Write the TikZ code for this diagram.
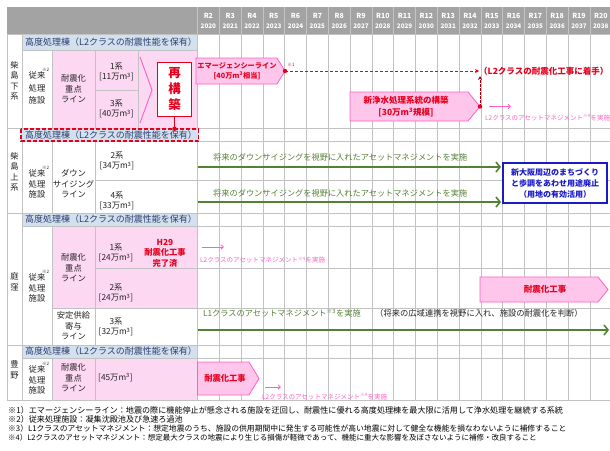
\documentclass[tikz,border=0pt]{standalone}
\usepackage{fontspec}
\setmainfont{Noto Sans CJK JP}
\usetikzlibrary{arrows.meta}
\newcommand\myfs[2]{\fontsize{#1}{#2}\selectfont}
\definecolor{hdr}{HTML}{A3A3A3}
\definecolor{hdrsep}{HTML}{C4C4C4}
\definecolor{band}{HTML}{D3E0EE}
\definecolor{bandtxt}{HTML}{2E3F6E}
\definecolor{pk}{HTML}{FDD8F3}
\definecolor{pkfill}{HTML}{FFC6EB}
\definecolor{pkline}{HTML}{FF5FC4}
\definecolor{rd}{HTML}{E6001E}
\definecolor{drd}{HTML}{9A0010}
\definecolor{gn}{HTML}{548235}
\definecolor{bl}{HTML}{1A1AC8}
\definecolor{gridc}{HTML}{C2C2C2}
\definecolor{txtc}{HTML}{222222}
\tikzset{
 cell/.style={draw=gridc, line width=0.5pt},
 txt/.style={inner sep=0pt, align=center, text=txtc, font=\myfs{8.3}{10.5}},
 hdrtxt/.style={text=white, inner sep=0pt, font=\myfs{7}{7}\bfseries},
 btxt/.style={text=bandtxt, anchor=west, inner sep=0pt, font=\myfs{9}{10}},
 redtxt/.style={text=rd, inner sep=0pt, align=center, font=\myfs{8.3}{10}\bfseries},
 pinktxt/.style={text=pkline, anchor=west, inner sep=0pt, font=\myfs{6.5}{7}},
 grntxt/.style={text=gn, anchor=west, inner sep=0pt, font=\myfs{8.2}{9}},
 garrow/.style={gn, line width=2pt, -{Straight Barb[length=4pt,width=10pt,line width=1.6pt]}},
 parrow/.style={pkline, line width=0.8pt, -{Straight Barb[length=2.5pt,width=4.5pt]}},
 penta/.style={fill=pkfill, draw=pkline, line width=0.8pt},
 sup2/.style={inner sep=0pt, text=txtc, font=\myfs{4.5}{5}},
 foot/.style={anchor=west, inner sep=0pt, text=black, font=\myfs{8}{8}},
}
\begin{document}
\begin{tikzpicture}[x=1pt,y=-1pt]
\useasboundingbox (0,0) rectangle (610,450);
\fill[white] (0,0) rectangle (610,450);
% header
\fill[hdr] (7,7) rectangle (610,34);
\foreach \i in {0,...,18} {
  \pgfmathsetmacro\cx{208.4+21.8*\i}
  \pgfmathtruncatemacro\rr{\i+2}
  \pgfmathtruncatemacro\yr{2020+\i}
  \node[hdrtxt] (hr\i) at (\cx,15.5) {R\rr};
  \node[hdrtxt, font=\myfs{6.3}{7}\bfseries] (hy\i) at (\cx,26) {\yr};
}
\foreach \i in {0,...,19} {
  \draw[hdrsep, line width=0.5pt] ({197.5+21.8*\i},7) -- ({197.5+21.8*\i},34);
  \draw[gridc, line width=0.5pt] ({197.5+21.8*\i},34) -- ({197.5+21.8*\i},400);
}
\foreach \yy in {34,128,141,180,213,226,268,308,345,358,400}
  \draw[gridc, line width=0.5pt] (197.5,\yy) -- (610,\yy);

% ---------- section A ----------
\draw[cell] (7,34) rectangle (22,128);
\filldraw[cell, fill=band] (22,34) rectangle (197.5,50);
\draw[cell] (22,50) rectangle (52,128);
\filldraw[cell, fill=pk] (52,50) rectangle (95,128);
\filldraw[cell, fill=pk] (95,50) rectangle (138,90);
\filldraw[cell, fill=pk] (95,90) rectangle (138,128);
\filldraw[cell, fill=pk] (138,50) rectangle (197.5,128);
\draw[pkline, line width=0.9pt] (140,57) -- (152,90) -- (140,123);
\node[btxt] (bandA) at (25,42.5) {高度処理棟（L2クラスの耐震性能を保有）};
\node[txt, font=\myfs{8.3}{10.5}] (labA) at (14.5,81) {柴\\島\\下\\系};
\node[txt, font=\myfs{8.3}{12.5}] (juA) at (37,88) {従来\\処理\\施設};
\node[sup2] (juAs) at (45.5,70) {※2};
\node[txt] (taA) at (73.5,89) {耐震化\\重点\\ライン};
\node[txt] (k1A) at (116.5,72) {1系\\{}[11万m\textsuperscript{3}]};
\node[txt] (k3A) at (116.5,109) {3系\\{}[40万m\textsuperscript{3}]};
\node[draw=rd, line width=1.6pt, fill=white, minimum width=34pt, minimum height=54pt,
      inner sep=0pt, text=rd, align=center, font=\myfs{12.5}{16}\bfseries] (saiko) at (174.5,89.5) {再\\構\\築};

% ---------- section B ----------
\draw[cell] (7,128) rectangle (22,213);
\draw[cell] (22,141) rectangle (52,213);
\draw[cell] (52,141) rectangle (95,213);
\draw[cell] (95,141) rectangle (197.5,180);
\draw[cell] (95,180) rectangle (197.5,213);
\filldraw[fill=band, draw=rd, line width=1.4pt, dash pattern=on 4pt off 2pt] (21,128.8) rectangle (198.5,141);
\node[btxt] (bandB) at (25,135) {高度処理棟（L2クラスの耐震性能を保有）};
\node[txt] (labB) at (14.5,172) {柴\\島\\上\\系};
\node[txt] (juB) at (37,184) {従来\\処理\\施設};
\node[sup2] (juBs) at (45.5,168) {※2};
\node[txt] (dsB) at (73.5,184) {ダウン\\サイジング\\ライン};
\node[txt] (k2B) at (117,161) {2系\\{}[34万m\textsuperscript{3}]};
\node[txt] (k4B) at (117,201) {4系\\{}[33万m\textsuperscript{3}]};
\coordinate (saikoEnd) at (174.5,128.8);
\draw[rd, line width=1.3pt] (saiko.south) -- (saikoEnd);
\fill[rd] (saikoEnd) circle (2.2pt);

% ---------- section C ----------
\draw[cell] (7,213) rectangle (22,345);
\filldraw[cell, fill=band] (22,213) rectangle (197.5,226);
\draw[cell] (22,226) rectangle (52,345);
\filldraw[cell, fill=pk] (52,226) rectangle (95,308);
\draw[cell] (52,308) rectangle (95,345);
\filldraw[cell, fill=pk] (95,226) rectangle (197.5,268);
\filldraw[cell, fill=pk] (95,268) rectangle (197.5,308);
\draw[cell] (95,308) rectangle (197.5,345);
\node[btxt] (bandC) at (25,219.5) {高度処理棟（L2クラスの耐震性能を保有）};
\node[txt] (labC) at (14.5,282) {庭\\窪};
\node[txt] (juC) at (37,288) {従来\\処理\\施設};
\node[sup2] (juCs) at (45.5,272) {※2};
\node[txt] (taC) at (73.5,268) {耐震化\\重点\\ライン};
\node[txt] (anC) at (73.5,326) {安定供給\\寄与\\ライン};
\node[txt] (k1C) at (116,253) {1系\\{}[24万m\textsuperscript{3}]};
\node[redtxt, font=\myfs{8.3}{10.5}\bfseries] (h29) at (165,253) {H29\\耐震化工事\\完了済};
\node[txt] (k2C) at (116,293) {2系\\{}[24万m\textsuperscript{3}]};
\node[txt] (k3C) at (116,327) {3系\\{}[32万m\textsuperscript{3}]};

% ---------- section D ----------
\draw[cell] (7,345) rectangle (22,400);
\filldraw[cell, fill=band] (22,345) rectangle (197.5,358);
\draw[cell] (22,358) rectangle (52,400);
\filldraw[cell, fill=pk] (52,358) rectangle (95,400);
\filldraw[cell, fill=pk] (95,358) rectangle (197.5,400);
\node[btxt] (bandD) at (25,351.5) {高度処理棟（L2クラスの耐震性能を保有）};
\node[txt] (labD) at (14.5,370) {豊\\野};
\node[txt] (juD) at (37,380) {従来\\処理\\施設};
\node[sup2] (juDs) at (45.5,364) {※2};
\node[txt] (taD) at (73.5,378) {耐震化\\重点\\ライン};
\node[txt, anchor=west] (k1D) at (98,378) {[45万m\textsuperscript{3}]};

% ---------- right area: section A ----------
\filldraw[penta] (196,58) -- (277,58) -- (285,71) -- (277,84) -- (196,84) -- cycle;
\node[redtxt, font=\myfs{7.2}{10.5}\bfseries] (em) at (237,71) {エマージェンシーライン\\{}[40万m\textsuperscript{3}相当]};
\node[text=rd, inner sep=0pt, font=\myfs{4.5}{5}] (em1) at (291,65) {※1};
\coordinate (emTip) at (285,71);
\node[redtxt, anchor=west, font=\myfs{8.5}{10}\bfseries] (l2) at (479,71) {（L2クラスの耐震化工事に着手）};
\draw[rd, line width=1pt, dash pattern=on 3pt off 2pt, -{Stealth[length=4pt,width=4pt]}] (emTip) -- (l2.west);
\fill[rd] (emTip) circle (2.2pt);
\filldraw[penta] (350,92) -- (468,92) -- (480,106.5) -- (468,121) -- (350,121) -- cycle;
\node[redtxt, font=\myfs{8.5}{11.5}\bfseries] (shin) at (406,106.5) {新浄水処理系統の構築\\{}[30万m\textsuperscript{3}規模]};
\coordinate (shinTip) at (480,106.5);
\coordinate (upEnd) at (480,76);
\draw[drd, line width=0.9pt, dash pattern=on 2.5pt off 1.5pt, -{Stealth[length=4pt,width=4pt]}] (shinTip) -- (upEnd);
\fill[rd] (shinTip) circle (2.2pt);
\coordinate (pa1s) at (489,106.5);
\coordinate (pa1e) at (511,106.5);
\draw[parrow] (pa1s) -- (pa1e);
\node[pinktxt] (pt1) at (485,117.5) {L2クラスのアセットマネジメント\textsuperscript{※4}を実施};

% ---------- right area: section B ----------
\node[draw=bl, line width=1.6pt, fill=white, minimum width=104pt, minimum height=40pt, text=bl,
      align=center, inner sep=0pt, font=\myfs{8}{11}\bfseries] (blue) at (555,183) {新大阪周辺のまちづくり\\と歩調をあわせ用途廃止\\（用地の有効活用）};
\coordinate (g1s) at (197.5,167);
\coordinate (g1e) at (501,167);
\coordinate (g2s) at (197.5,202);
\coordinate (g2e) at (501,202);
\draw[garrow] (g1s) -- (g1e);
\draw[garrow] (g2s) -- (g2e);
\node[grntxt] (gt1) at (213,157.5) {将来のダウンサイジングを視野に入れたアセットマネジメントを実施};
\node[grntxt] (gt2) at (213,193.5) {将来のダウンサイジングを視野に入れたアセットマネジメントを実施};

% ---------- right area: section C ----------
\coordinate (pa2s) at (202,247);
\coordinate (pa2e) at (224,247);
\draw[parrow] (pa2s) -- (pa2e);
\node[pinktxt] (pt2) at (200,260) {L2クラスのアセットマネジメント\textsuperscript{※4}を実施};
\filldraw[penta] (480,277) -- (598,277) -- (608,289.5) -- (598,302) -- (480,302) -- cycle;
\node[redtxt, font=\myfs{8.5}{10}\bfseries] (taiC) at (545,289.5) {耐震化工事};
\coordinate (l1s) at (197.5,330);
\coordinate (l1e) at (609,330);
\draw[garrow] (l1s) -- (l1e);
\node[grntxt] (l1t) at (203,313) {L1クラスのアセットマネジメント\textsuperscript{※3}を実施};
\node[anchor=west, inner sep=0pt, text=txtc, font=\myfs{8.3}{9}] (l1b) at (375,313) {（将来の広域連携を視野に入れ、施設の耐震化を判断）};

% ---------- right area: section D ----------
\filldraw[penta] (197.5,362) -- (249,362) -- (259,378.5) -- (249,395) -- (197.5,395) -- cycle;
\node[redtxt, font=\myfs{8.3}{10}\bfseries] (taiD) at (225,378.5) {耐震化工事};
\coordinate (pa3s) at (265,387);
\coordinate (pa3e) at (281,387);
\draw[parrow] (pa3s) -- (pa3e);
\node[pinktxt] (pt3) at (262,396.5) {L2クラスのアセットマネジメント\textsuperscript{※4}を実施};

% ---------- footnotes ----------
\node[foot, font=\myfs{8.1}{8}] (f1) at (8,410) {※1）エマージェンシーライン：地震の際に機能停止が懸念される施設を迂回し、耐震性に優れる高度処理棟を最大限に活用して浄水処理を継続する系統};
\node[foot, font=\myfs{8.1}{8}] (f2) at (8,419.5) {※2）従来処理施設：凝集沈殿池及び急速ろ過池};
\node[foot, font=\myfs{7.8}{8}] (f3) at (8,429) {※3）L1クラスのアセットマネジメント：想定地震のうち、施設の供用期間中に発生する可能性が高い地震に対して健全な機能を損なわないように補修すること};
\node[foot, font=\myfs{7.5}{8}] (f4) at (8,438) {※4）L2クラスのアセットマネジメント：想定最大クラスの地震により生じる損傷が軽微であって、機能に重大な影響を及ぼさないように補修・改良すること};
\end{tikzpicture}
\end{document}
